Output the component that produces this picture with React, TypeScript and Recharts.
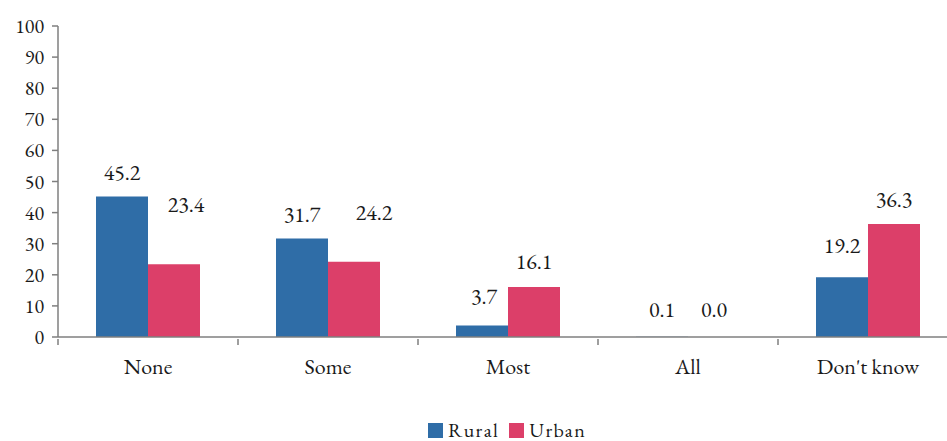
import React from "react";
import { BarChart, Bar, XAxis, YAxis, Legend, LabelList } from "recharts";

const categories = ["None", "Some", "Most", "All", "Don't know"];
const rural = [45.2, 31.7, 3.7, 0.1, 19.2];
const urban = [23.4, 24.2, 16.1, 0.0, 36.3];
const yTicks = [0, 10, 20, 30, 40, 50, 60, 70, 80, 90, 100];

// label placement tweaks (pixels above bar top, horizontal shift)
const ruralLift = [24, 24, 29, 27, 32];
const urbanLift = [60, 49, 25, 27, 25];
const ruralShift = [0, 0, 2, 0, 0];
const urbanShift = [12, 20, 0, 0, 0];

const data = categories.map((c, i) => ({ name: c, Rural: rural[i], Urban: urban[i] }));

const FONT = '"EB Garamond", "Liberation Serif", serif';
const BLUE = "#2F6DA7";
const PINK = "#DC3F69";
const AXIS = "#7f7f7f";
const INK = "#1a1a1a";

const makeLabel = (lift: number[], shift: number[]) => (props: any) => {
  const { x, y, width, value, index } = props;
  return (
    <text
      x={Number(x) + Number(width) / 2 + shift[index]}
      y={Number(y) - lift[index]}
      textAnchor="middle"
      dominantBaseline="central"
      style={{ fontFamily: FONT, fontSize: 22 }}
      fill={INK}
    >
      {Number(value).toFixed(1)}
    </text>
  );
};

const YTick = (props: any) => {
  const { x, y, payload } = props;
  return (
    <text x={x} y={y} textAnchor="end" dominantBaseline="central" style={{ fontFamily: FONT, fontSize: 20 }} fill={INK}>
      {payload.value}
    </text>
  );
};

const CatTick = (props: any) => {
  const { x, y, payload } = props;
  const half = payload && payload.offset ? payload.offset : 90;
  return (
    <g>
      <line x1={x - half} x2={x - half} y1={y - 8} y2={y - 2} stroke={AXIS} strokeWidth={1.5} />
      <text x={x} y={y + 27} textAnchor="middle" style={{ fontFamily: FONT, fontSize: 22 }} fill={INK}>
        {payload.value}
      </text>
    </g>
  );
};

const LegendContent = () => (
  <div style={{ display: "flex", justifyContent: "flex-start", paddingLeft: 428, fontFamily: FONT, fontSize: 20, lineHeight: "16px", color: INK, letterSpacing: 1.4, marginTop: 11 }}>
    {[{ n: "Rural", c: BLUE }, { n: "Urban", c: PINK }].map((it) => (
      <span key={it.n} style={{ display: "inline-flex", alignItems: "center", marginRight: 10 }}>
        <span style={{ display: "inline-block", width: 15, height: 15, background: it.c, marginRight: 5 }} />
        {it.n}
      </span>
    ))}
  </div>
);

export default function App() {
  return (
    <div style={{ position: "absolute", left: 0, top: 0, width: 947, height: 441, overflow: "hidden", background: "#fff" }}>
      <BarChart
        width={958}
        height={441}
        data={data}
        margin={{ top: 26, right: 0, bottom: 0, left: 0 }}
        barCategoryGap={38}
        barGap={0}
      >
        <YAxis
          domain={[0, 100]}
          ticks={yTicks}
          width={58}
          interval={0}
          axisLine={{ stroke: AXIS, strokeWidth: 1.5 }}
          tickLine={{ stroke: AXIS, strokeWidth: 1.5 }}
          tickSize={6}
          tickMargin={8}
          tick={<YTick />}
        />
        <XAxis
          dataKey="name"
          height={74}
          interval={0}
          axisLine={{ stroke: AXIS, strokeWidth: 1.5 }}
          tickLine={false}
          tickSize={8}
          tick={<CatTick />}
        />
        <Legend verticalAlign="bottom" height={30} content={<LegendContent />} wrapperStyle={{ left: 0 }} />
        <Bar dataKey="Rural" fill={BLUE} isAnimationActive={false} minPointSize={0.01}>
          <LabelList dataKey="Rural" content={makeLabel(ruralLift, ruralShift)} />
        </Bar>
        <Bar dataKey="Urban" fill={PINK} isAnimationActive={false} minPointSize={0.01}>
          <LabelList dataKey="Urban" content={makeLabel(urbanLift, urbanShift)} />
        </Bar>
      </BarChart>
    </div>
  );
}
